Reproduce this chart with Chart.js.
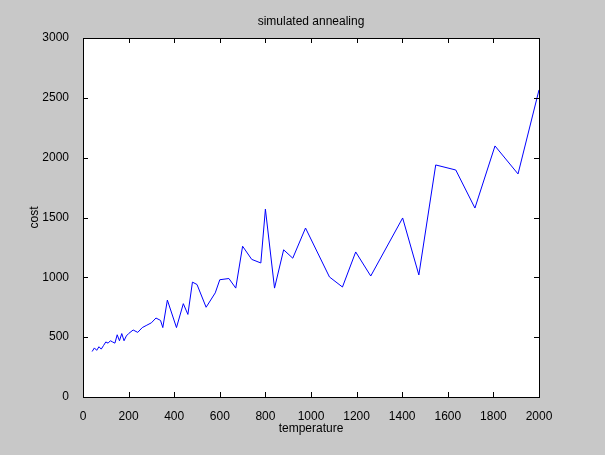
<!DOCTYPE html>
<html><head><meta charset="utf-8">
<script src="https://cdn.jsdelivr.net/npm/chart.js@4"></script>
<style>html,body{margin:0;padding:0;background:#c8c8c8}</style>
</head><body>
<div style="width:605px;height:455px"><canvas id="c"></canvas></div>
<script>
// temperature vs cost
var temperature = [40,50,60,70,80,90,100,110,120,130,140,150,160,170,180,190,200,220,240,260,280,300,320,340,350,370,410,440,460,480,500,540,580,600,640,670,700,740,780,800,840,880,920,976,1081,1138,1196,1262,1402,1473,1547,1635,1719,1807,1908,2000];
var cost = [380,410,390,420,400,430,460,450,470,460,450,520,470,530,470,510,530,560,540,580,600,620,660,640,580,810,580,780,690,960,940,750,870,980,990,910,1260,1150,1120,1570,910,1230,1160,1412,1003,919,1212,1011,1496,1020,1939,1897,1579,2098,1864,2566];
var xTicks = [0,200,400,600,800,1000,1200,1400,1600,1800,2000];
var yTicks = [0,500,1000,1500,2000,2500,3000];

var font = 'Liberation Sans, Arial, sans-serif';
var framePlugin = {
  id: 'frame',
  beforeDraw: function (chart) {
    var c = chart.ctx, a = chart.chartArea;
    c.save();
    c.fillStyle = '#c8c8c8';
    c.fillRect(0, 0, chart.width, chart.height);
    c.fillStyle = '#fff';
    c.fillRect(a.left, a.top, a.right - a.left, a.bottom - a.top);
    c.restore();
  },
  afterDraw: function (chart) {
    var c = chart.ctx, a = chart.chartArea;
    var xs = chart.scales.x, ys = chart.scales.y;
    c.save();
    c.strokeStyle = '#000';
    c.lineWidth = 1;
    c.strokeRect(a.left + 0.5, a.top + 0.5, a.right - a.left, a.bottom - a.top);
    c.beginPath();
    xTicks.forEach(function (t) {
      var p = Math.round(xs.getPixelForValue(t)) + 0.5;
      c.moveTo(p, a.bottom); c.lineTo(p, a.bottom - 5);
      c.moveTo(p, a.top); c.lineTo(p, a.top + 5);
    });
    yTicks.forEach(function (t) {
      var p = Math.round(ys.getPixelForValue(t)) + 0.5;
      c.moveTo(a.left, p); c.lineTo(a.left + 5, p);
      c.moveTo(a.right, p); c.lineTo(a.right - 5, p);
    });
    c.stroke();
    c.fillStyle = '#000';
    c.font = '12px ' + font;
    c.textAlign = 'center';
    c.textBaseline = 'middle';
    c.fillText('simulated annealing', (a.left + a.right) / 2, 22);
    c.fillText('temperature', (a.left + a.right) / 2, 429);
    c.translate(35, (a.top + a.bottom) / 2);
    c.rotate(-Math.PI / 2);
    c.fillText('cost', 0, 0);
    c.restore();
  }
};

new Chart(document.getElementById('c'), {
  type: 'line',
  data: {
    datasets: [{
      data: temperature.map(function (t, i) { return {x: t, y: cost[i]}; }),
      borderColor: '#0000ff',
      borderWidth: 1,
      pointRadius: 0,
      tension: 0,
      fill: false
    }]
  },
  plugins: [framePlugin],
  options: {
    responsive: true,
    maintainAspectRatio: false,
    animation: false,
    layout: {padding: {top: 38, right: 66, left: 0, bottom: 0}},
    plugins: {legend: {display: false}, tooltip: {enabled: false}},
    scales: {
      x: {
        type: 'linear', min: 0, max: 2000,
        afterBuildTicks: function (s) { s.ticks = xTicks.map(function (v) { return {value: v}; }); },
        afterFit: function (s) { s.height = 58; },
        grid: {display: false},
        border: {display: false},
        ticks: {color: '#000', font: {family: font, size: 12}, padding: 4, maxRotation: 0,
          callback: function (v) { return String(v); }}
      },
      y: {
        min: 0, max: 3000,
        afterBuildTicks: function (s) { s.ticks = yTicks.map(function (v) { return {value: v}; }); },
        afterFit: function (s) { s.width = 83; },
        grid: {display: false},
        border: {display: false},
        ticks: {color: '#000', font: {family: font, size: 12}, padding: 6,
          callback: function (v) { return String(v); }}
      }
    }
  }
});
</script>
</body></html>
